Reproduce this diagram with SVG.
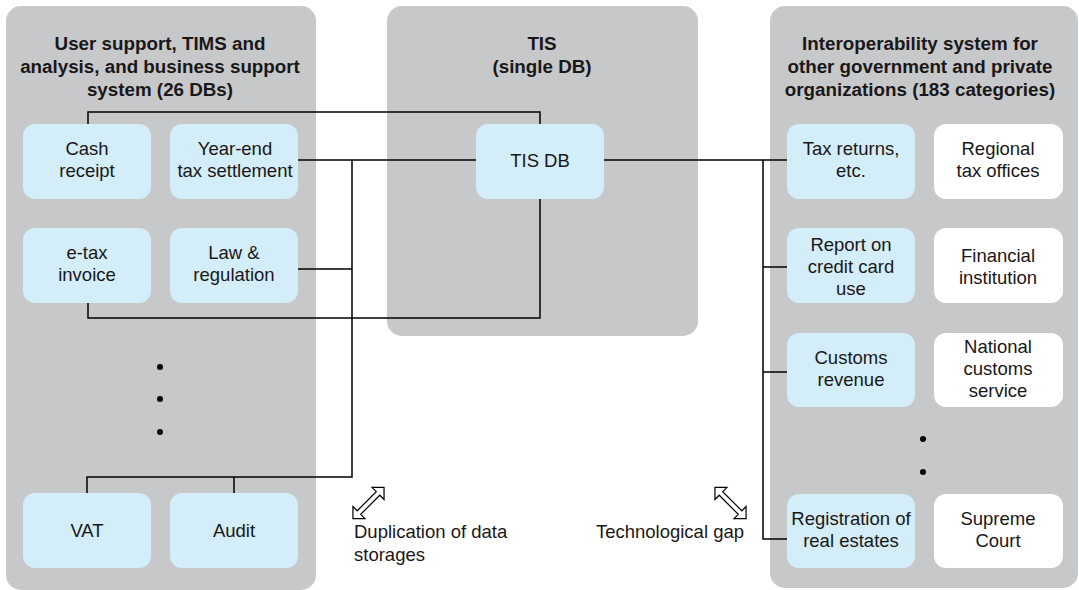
<svg xmlns="http://www.w3.org/2000/svg" width="1079" height="590" viewBox="0 0 1079 590">
<style>
.panel{fill:#c7c8ca}
.db{fill:#d3edf9}
.org{fill:#ffffff}
text{font-family:"Liberation Sans",Arial,sans-serif;font-size:18.5px;fill:#1a1718;text-anchor:middle}
.title{font-weight:bold;font-size:18.8px}
.conn{fill:none;stroke:#000;stroke-width:1.5}
.dot{fill:#000}
.dbl{fill:#fff;stroke:#000;stroke-width:1.2;stroke-linejoin:miter}
</style>
<defs>
<polygon id="dblarrow" points="-22,0 -13.5,-8.5 -13.5,-2.5 13.5,-2.5 13.5,-8.5 22,0 13.5,8.5 13.5,2.5 -13.5,2.5 -13.5,8.5"/>
</defs>

<g id="panel-left">
<rect class="panel" x="6" y="6" width="310" height="584" rx="15"/>
<text class="title" x="160" y="50">User support, TIMS and</text>
<text class="title" x="160" y="73">analysis, and business support</text>
<text class="title" x="160" y="96">system (26 DBs)</text>
</g>
<g id="panel-mid">
<rect class="panel" x="387" y="6" width="311" height="330" rx="15"/>
<text class="title" x="542" y="50">TIS</text>
<text class="title" x="542" y="73">(single DB)</text>
</g>
<g id="panel-right">
<rect class="panel" x="770" y="6" width="308" height="582" rx="15"/>
<text class="title" x="920" y="50">Interoperability system for</text>
<text class="title" x="920" y="73">other government and private</text>
<text class="title" x="920" y="96">organizations (183 categories)</text>
</g>

<g id="connectors">
<polyline class="conn" points="88,124 88,112 540,112 540,124"/>
<line class="conn" x1="298" y1="160" x2="476" y2="160"/>
<polyline class="conn" points="352,160 352,477 87,477 87,493"/>
<line class="conn" x1="234" y1="477" x2="234" y2="493"/>
<line class="conn" x1="298" y1="269" x2="352" y2="269"/>
<polyline class="conn" points="88,303 88,318 540,318 540,199"/>
<line class="conn" x1="604" y1="160" x2="787" y2="160"/>
<polyline class="conn" points="763,160 763,539 787,539"/>
<line class="conn" x1="763" y1="267" x2="787" y2="267"/>
<line class="conn" x1="763" y1="372" x2="787" y2="372"/>
</g>

<g id="node-cash">
<rect class="db" x="23" y="124" width="128" height="75" rx="12"/>
<text x="87" y="155">Cash</text>
<text x="87" y="177">receipt</text>
</g>
<g id="node-yearend">
<rect class="db" x="170" y="124" width="128" height="75" rx="12"/>
<text x="235" y="155">Year-end</text>
<text x="235" y="177">tax settlement</text>
</g>
<g id="node-etax">
<rect class="db" x="23" y="228" width="128" height="75" rx="12"/>
<text x="87" y="259">e-tax</text>
<text x="87" y="281">invoice</text>
</g>
<g id="node-law">
<rect class="db" x="170" y="228" width="128" height="75" rx="12"/>
<text x="234" y="259">Law &amp;</text>
<text x="234" y="281">regulation</text>
</g>
<g id="dots-left">
<circle class="dot" cx="160" cy="367" r="3"/>
<circle class="dot" cx="160" cy="399" r="3"/>
<circle class="dot" cx="160" cy="432" r="3"/>
</g>
<g id="node-vat">
<rect class="db" x="23" y="493" width="128" height="75" rx="12"/>
<text x="87" y="537">VAT</text>
</g>
<g id="node-audit">
<rect class="db" x="170" y="493" width="128" height="75" rx="12"/>
<text x="234" y="537">Audit</text>
</g>

<g id="node-tisdb">
<rect class="db" x="476" y="124" width="128" height="75" rx="12"/>
<text x="540" y="167">TIS DB</text>
</g>

<g id="node-taxreturns">
<rect class="db" x="787" y="124" width="128" height="75" rx="12"/>
<text x="851" y="155">Tax returns,</text>
<text x="851" y="177">etc.</text>
</g>
<g id="node-regional">
<rect class="org" x="934" y="124" width="129" height="75" rx="12"/>
<text x="998" y="155">Regional</text>
<text x="998" y="177">tax offices</text>
</g>
<g id="node-report">
<rect class="db" x="787" y="228" width="128" height="75" rx="12"/>
<text x="851" y="251">Report on</text>
<text x="851" y="273">credit card</text>
<text x="851" y="295">use</text>
</g>
<g id="node-financial">
<rect class="org" x="934" y="228" width="129" height="75" rx="12"/>
<text x="998" y="262">Financial</text>
<text x="998" y="284">institution</text>
</g>
<g id="node-customs">
<rect class="db" x="787" y="333" width="128" height="74" rx="12"/>
<text x="851" y="364">Customs</text>
<text x="851" y="386">revenue</text>
</g>
<g id="node-national">
<rect class="org" x="934" y="333" width="129" height="74" rx="12"/>
<text x="998" y="353">National</text>
<text x="998" y="375">customs</text>
<text x="998" y="397">service</text>
</g>
<g id="dots-right">
<circle class="dot" cx="923" cy="439" r="3"/>
<circle class="dot" cx="923" cy="472" r="3"/>
</g>
<g id="node-registration">
<rect class="db" x="787" y="494" width="128" height="74" rx="12"/>
<text x="851" y="525">Registration of</text>
<text x="851" y="547">real estates</text>
</g>
<g id="node-supreme">
<rect class="org" x="934" y="494" width="129" height="74" rx="12"/>
<text x="998" y="525">Supreme</text>
<text x="998" y="547">Court</text>
</g>

<g id="label-duplication">
<use href="#dblarrow" class="dbl" transform="translate(368.5,503) rotate(-45)"/>
<text x="354" y="538" style="text-anchor:start">Duplication of data</text>
<text x="354" y="561" style="text-anchor:start">storages</text>
</g>
<g id="label-gap">
<use href="#dblarrow" class="dbl" transform="translate(730.5,503) rotate(45)"/>
<text x="744" y="538" style="text-anchor:end">Technological gap</text>
</g>
</svg>
